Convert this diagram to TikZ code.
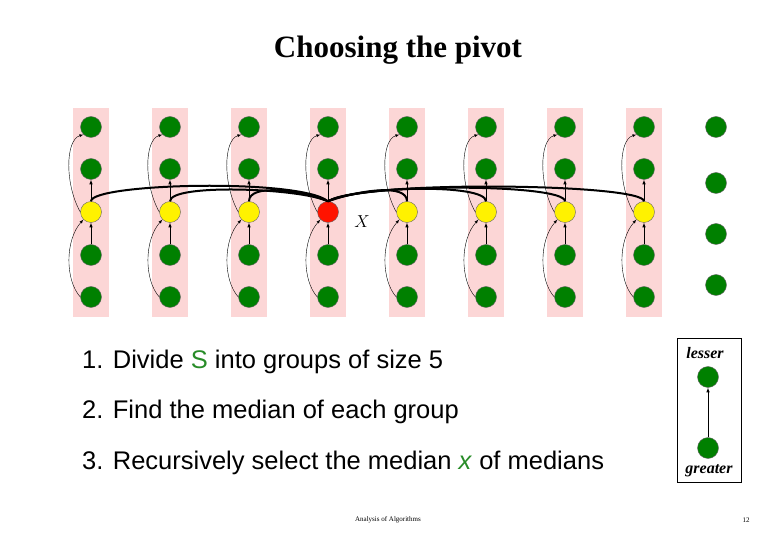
\documentclass[tikz,border=0pt]{standalone}
\usepackage{fontspec}
\setmainfont{Liberation Serif}
\newfontfamily\sansf{Liberation Sans}
\definecolor{pinkbg}{RGB}{252,214,214}
\definecolor{dgreen}{RGB}{0,128,0}
\definecolor{sgreen}{RGB}{40,140,40}
\begin{document}
\begin{tikzpicture}[x=1pt,y=-1pt,
  dot/.style={circle,draw=black!60,line width=0.4pt,fill=dgreen,minimum size=21pt,inner sep=0pt},
  med/.style={dot,fill=yellow},
  piv/.style={dot,fill=red!85!orange},
  up/.style={-latex,line width=0.6pt},
  curv/.style={-latex,line width=0.4pt},
  thick/.style={line width=2pt}]
\useasboundingbox (0,0) rectangle (780,540);
\node (title) at (398,50) {\fontsize{31}{36}\selectfont\bfseries Choosing the pivot};
\foreach \i/\x in {1/91,2/170,3/249,4/328,5/407,6/486,7/565,8/644}{
  \fill[pinkbg] (\x-18,108) rectangle (\x+18,317);
  \node[dot] (a\i) at (\x,127) {};
  \node[dot] (b\i) at (\x,169) {};
  \ifnum\i=4 \node[piv] (c\i) at (\x,212) {}; \else \node[med] (c\i) at (\x,212) {}; \fi
  \node[dot] (d\i) at (\x,255) {};
  \node[dot] (e\i) at (\x,297) {};
  \draw[up] (d\i) -- (c\i);
  \draw[up] (c\i) -- (b\i);
  \draw[curv] (c\i.west) .. controls (\x-26,185) and (\x-26,140) .. (a\i.south west);
  \draw[curv] (e\i.west) .. controls (\x-26,280) and (\x-26,240) .. (c\i.south west);
}
\foreach \i/\h in {1/178,2/188,3/190}{
  \draw[thick] (c\i.north) .. controls ([yshift=18pt]c\i.north) and (300,\h) .. (c4.north);
}
\foreach \i/\h in {5/190,6/186,7/183,8/180}{
  \draw[thick] (c\i.north) .. controls ([yshift=18pt]c\i.north) and (360,\h) .. (c4.north);
}
\node (xl) at (362,222) {\fontsize{17}{20}\selectfont$X$};
\foreach \j/\y in {1/127,2/183,3/234,4/285}{ \node[dot] (f\j) at (716,\y) {}; }
\draw[black,line width=0.8pt] (677,338) rectangle (741,482);
\node (lesser) at (705,353) {\fontsize{16}{18}\selectfont\itshape\bfseries lesser};
\node (greater) at (709,471) {\fontsize{16}{18}\selectfont\itshape\bfseries greater};
\node[dot] (lg) at (708,377) {};
\node[dot] (gg) at (708,448) {};
\draw[up] (gg) -- (lg);
\begin{scope}[every node/.style={anchor=west,inner sep=0pt,font=\sansf\fontsize{25.5}{30}\selectfont}]
\node (l1) at (82,362) {1. Divide \textcolor{sgreen}{S} into groups of size 5};
\node (l2) at (82,412) {2. Find the median of each group};
\node (l3) at (82,463) {3. Recursively select the median \textcolor{sgreen}{\textit{x}} of medians};
\end{scope}
\node (foot) at (388,520) {\fontsize{7}{8}\selectfont Analysis of Algorithms};
\node (num) at (746,520) {\fontsize{7}{8}\selectfont 12};
\end{tikzpicture}
\end{document}
